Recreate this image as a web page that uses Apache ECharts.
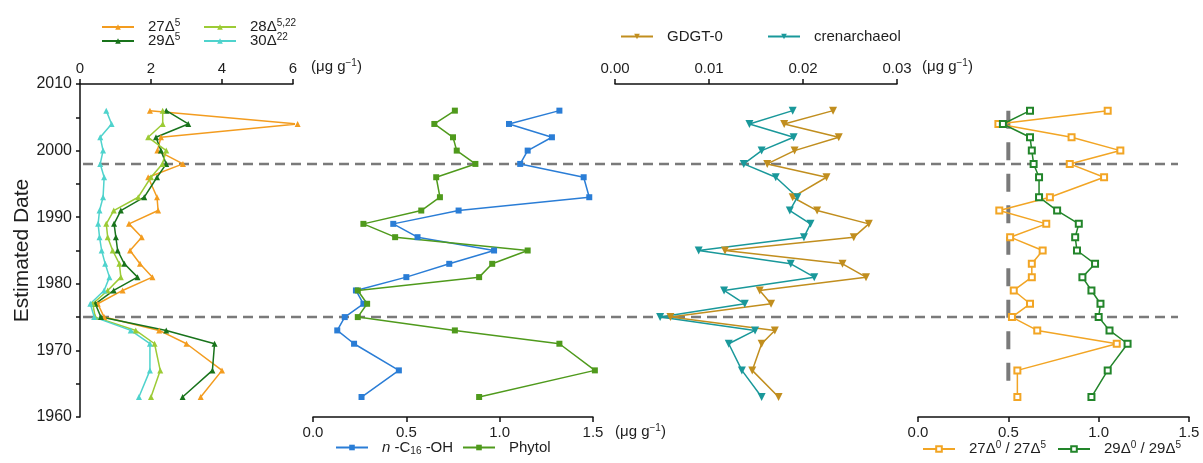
<!DOCTYPE html>
<html>
<head>
<meta charset="utf-8">
<script src="https://cdn.jsdelivr.net/npm/echarts@6/dist/echarts.min.js"></script>
<style>
html, body { margin: 0; padding: 0; background: #fff; }
#app { width: 1203px; height: 463px; }
</style>
</head>
<body>
<div id="app"></div>
<script>
// sampling depths converted to estimated dates (shared y axis)
var years = [2006, 2004, 2002, 2000, 1998, 1996, 1993, 1991, 1989, 1987, 1985, 1983, 1981, 1979, 1977, 1975, 1973, 1971, 1967, 1963];

// panel 1: sterols (ug/g)
var s27d5  = [1.97, 6.13, 2.28, 2.18, 2.90, 1.92, 2.17, 2.20, 1.38, 1.74, 1.41, 1.69, 2.04, 1.20, 0.50, 0.68, 2.23, 3.00, 4.00, 3.40];
var s29d5  = [2.43, 3.05, 2.14, 2.28, 2.43, 2.17, 1.81, 1.15, 0.96, 1.01, 1.06, 1.25, 1.62, 0.95, 0.43, 0.59, 2.43, 3.79, 3.73, 2.89];
var s28d5  = [2.33, 2.33, 1.92, 2.43, 2.32, 2.00, 1.64, 0.95, 0.74, 0.78, 0.92, 1.11, 1.15, 0.78, 0.36, 0.43, 1.57, 2.10, 2.26, 2.00];
var s30d22 = [0.74, 0.89, 0.57, 0.65, 0.57, 0.68, 0.65, 0.55, 0.51, 0.55, 0.61, 0.71, 0.83, 0.68, 0.29, 0.40, 1.43, 1.97, 1.97, 1.66];

// panel 2: n-C16-OH and phytol (ug/g)
var nC16OH = [1.32, 1.05, 1.28, 1.15, 1.11, 1.45, 1.48, 0.78, 0.43, 0.56, 0.97, 0.73, 0.50, 0.23, 0.27, 0.17, 0.13, 0.22, 0.46, 0.26];
var phytol = [0.76, 0.65, 0.75, 0.77, 0.87, 0.66, 0.68, 0.58, 0.27, 0.44, 1.15, 0.96, 0.89, 0.24, 0.29, 0.24, 0.76, 1.32, 1.51, 0.89];

// panel 3: GDGTs (ug/g)
var gdgt0 = [0.0232, 0.0180, 0.0238, 0.0191, 0.0162, 0.0225, 0.0189, 0.0215, 0.0270, 0.0254, 0.0117, 0.0242, 0.0267, 0.0154, 0.0166, 0.0059, 0.0170, 0.0156, 0.0146, 0.0174];
var cren  = [0.0189, 0.0143, 0.0190, 0.0156, 0.0137, 0.0171, 0.0194, 0.0186, 0.0208, 0.0201, 0.0089, 0.0187, 0.0212, 0.0116, 0.0138, 0.0048, 0.0149, 0.0121, 0.0135, 0.0156];

// panel 4: stanol / stenol ratios
var r27 = [1.05, 0.445, 0.85, 1.12, 0.84, 1.03, 0.73, 0.45, 0.71, 0.51, 0.69, 0.63, 0.63, 0.53, 0.62, 0.52, 0.66, 1.10, 0.55, 0.55];
var r29 = [0.62, 0.47, 0.62, 0.63, 0.64, 0.67, 0.67, 0.77, 0.89, 0.87, 0.88, 0.98, 0.91, 0.96, 1.01, 1.00, 1.06, 1.16, 1.05, 0.96];

// reference lines
var breakYears = [1998, 1975];
var ratioRef = 0.5;
var ratioRefSpan = [2006, 1965];

var FONT = '"Liberation Sans", Arial, sans-serif';
var TXT = '#1e1e1e';

var rich = {
    b: { fontSize: 15, lineHeight: 18, color: TXT, fontFamily: FONT },
    i: { fontSize: 15, lineHeight: 18, color: TXT, fontFamily: FONT, fontStyle: 'italic' },
    sup: { fontSize: 10, lineHeight: 10, color: TXT, fontFamily: FONT, verticalAlign: 'top' },
    sub: { fontSize: 10, lineHeight: 10, color: TXT, fontFamily: FONT, verticalAlign: 'bottom' }
};

var labels = {
    '27Δ5': '{b|27Δ}{sup|5}',
    '28Δ5,22': '{b|28Δ}{sup|5,22}',
    '29Δ5': '{b|29Δ}{sup|5}',
    '30Δ22': '{b|30Δ}{sup|22}',
    'n-C16-OH': '{i|n}{b| -C}{sub|16}{b| -OH}',
    'Phytol': '{b|Phytol}',
    'GDGT-0': '{b|GDGT-0}',
    'crenarchaeol': '{b|crenarchaeol}',
    '27Δ0/27Δ5': '{b|27Δ}{sup|0}{b| / 27Δ}{sup|5}',
    '29Δ0/29Δ5': '{b|29Δ}{sup|0}{b| / 29Δ}{sup|5}'
};

function pts(vals) {
    return vals.map(function (v, i) { return [v, years[i]]; });
}

function line(name, vals, grid, color, symbol, size, extra) {
    var s = {
        name: name, type: 'line', xAxisIndex: grid, yAxisIndex: grid,
        data: pts(vals), symbol: symbol, symbolSize: size, showSymbol: true,
        lineStyle: { color: color, width: 1.5 },
        itemStyle: { color: color },
        clip: false, animation: false
    };
    for (var k in extra) s[k] = extra[k];
    return s;
}

function legendAt(name, left, cy) {
    return {
        data: [name], left: left, top: cy - 9, padding: 0,
        itemWidth: 32, itemHeight: 7,
        formatter: function (n) { return labels[n]; },
        textStyle: { fontSize: 15, color: TXT, fontFamily: FONT, rich: rich, padding: [0, 0, 0, 9] },
        selectedMode: false
    };
}

function xAx(grid, pos, max, interval, digits) {
    return {
        type: 'value', gridIndex: grid, position: pos, min: 0, max: max, interval: interval,
        axisLine: { show: true, onZero: false, lineStyle: { color: '#111', width: 1.5 } },
        axisTick: { show: true, length: 5, lineStyle: { color: '#111', width: 1.5 } },
        axisLabel: { fontSize: 15, color: TXT, fontFamily: FONT, margin: 8,
            formatter: function (v) { return v.toFixed(digits); } },
        splitLine: { show: false }
    };
}

function yHidden(grid) {
    return { type: 'value', gridIndex: grid, min: 1960, max: 2010, show: false };
}

var TOP = 84, H = 333;
var grids = [
    { left: 80, top: TOP, width: 213, height: H },
    { left: 313, top: TOP, width: 280, height: H },
    { left: 615, top: TOP, width: 282, height: H },
    { left: 918, top: TOP, width: 271, height: H },
    { left: 83, top: TOP, width: 1095, height: H }
];

var xAxes = [
    xAx(0, 'top', 6, 2, 0),
    xAx(1, 'bottom', 1.5, 0.5, 1),
    xAx(2, 'top', 0.03, 0.01, 2),
    xAx(3, 'bottom', 1.5, 0.5, 1),
    { type: 'value', gridIndex: 4, min: 0, max: 1, show: false }
];

var yAxes = [
    {
        type: 'value', gridIndex: 0, min: 1960, max: 2010, interval: 10,
        name: 'Estimated Date', nameLocation: 'middle', nameGap: 43,
        nameTextStyle: { fontSize: 21, color: TXT, fontFamily: FONT },
        axisLine: { show: true, lineStyle: { color: '#111', width: 1.5 } },
        axisTick: { show: true, length: 4, lineStyle: { color: '#111', width: 1.5 } },
        minorTick: { show: true, splitNumber: 2, length: 4, lineStyle: { color: '#111', width: 1.5 } },
        axisLabel: { fontSize: 16, color: TXT, fontFamily: FONT, margin: 8,
            formatter: function (v) { return String(v); } },
        splitLine: { show: false }
    },
    yHidden(1), yHidden(2), yHidden(3), yHidden(4)
];

var series = [];

breakYears.forEach(function (y) {
    series.push({
        type: 'line', xAxisIndex: 4, yAxisIndex: 4, data: [[0, y], [1, y]],
        symbol: 'none', silent: true, animation: false, z: 1,
        lineStyle: { color: '#7a7a7a', width: 2.5, type: [10, 6] }
    });
});

series.push(line('27Δ5', s27d5, 0, '#F39C1F', 'triangle', 6));
series.push(line('29Δ5', s29d5, 0, '#18731B', 'triangle', 6));
series.push(line('28Δ5,22', s28d5, 0, '#9CCB35', 'triangle', 6));
series.push(line('30Δ22', s30d22, 0, '#4FD3CD', 'triangle', 6));

series.push(line('n-C16-OH', nC16OH, 1, '#2A7DD6', 'rect', 6));
series.push(line('Phytol', phytol, 1, '#4F9A1C', 'rect', 6));

series.push(line('GDGT-0', gdgt0, 2, '#C18E1E', 'triangle', 8, { symbolRotate: 180 }));
series.push(line('crenarchaeol', cren, 2, '#19989A', 'triangle', 8, { symbolRotate: 180 }));

series.push({
    type: 'line', xAxisIndex: 3, yAxisIndex: 3,
    data: ratioRefSpan.map(function (y) { return [ratioRef, y]; }),
    symbol: 'none', silent: true, animation: false, z: 1,
    lineStyle: { color: '#7a7a7a', width: 4, type: [18, 13.5] }
});
series.push(line('27Δ0/27Δ5', r27, 3, '#F2A524', 'emptyRect', 6, { itemStyle: { color: '#F2A524', borderWidth: 1.5 } }));
series.push(line('29Δ0/29Δ5', r29, 3, '#22852A', 'emptyRect', 6, { itemStyle: { color: '#22852A', borderWidth: 1.5 } }));

var legends = [
    legendAt('27Δ5', 101, 27),
    legendAt('28Δ5,22', 203, 27),
    legendAt('29Δ5', 101, 41),
    legendAt('30Δ22', 203, 41),
    legendAt('GDGT-0', 620, 38),
    legendAt('crenarchaeol', 767, 38),
    legendAt('n-C16-OH', 335, 449),
    legendAt('Phytol', 462, 449),
    legendAt('27Δ0/27Δ5', 922, 449),
    legendAt('29Δ0/29Δ5', 1057, 449)
];

function unitText(left, cy) {
    return {
        type: 'text', left: left, top: cy - 9,
        style: { text: '{b|(μg g}{sup|−1}{b|)}', rich: rich, fontSize: 15, fill: TXT, fontFamily: FONT }
    };
}

var chart = echarts.init(document.getElementById('app'), null, { renderer: 'canvas' });
chart.setOption({
    animation: false,
    backgroundColor: '#fff',
    grid: grids,
    xAxis: xAxes,
    yAxis: yAxes,
    legend: legends,
    graphic: [unitText(311, 67), unitText(615, 432), unitText(922, 67)],
    series: series
});
</script>
</body>
</html>
